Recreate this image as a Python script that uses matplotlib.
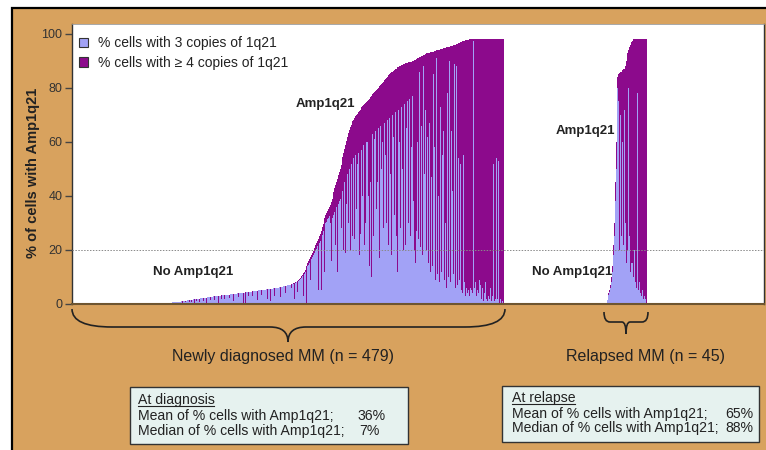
import numpy as np
import matplotlib.pyplot as plt
from matplotlib.patches import Rectangle, PathPatch, Patch
from matplotlib.path import Path
from matplotlib.lines import Line2D

plt.rcParams['font.family'] = ['Liberation Sans', 'DejaVu Sans']

# Newly diagnosed MM (n = 479), patients sorted by total % of cells with Amp1q21.
# The first 106 patients show no gain at all.
nd_n_zero = 106

# total % of cells with Amp1q21 (3 copies + >=4 copies), patients 107..479
nd_total = [
    0.4, 0.4, 0.5, 0.5, 0.5, 0.6, 0.6, 0.6, 0.7, 0.7, 0.8, 0.8, 0.8, 0.9, 0.9, 1.0, 1.0, 1.1, 1.1, 1.2, 1.2, 1.3, 1.3, 1.4, 1.5,
    1.5, 1.6, 1.6, 1.7, 1.7, 1.8, 1.8, 1.9, 1.9, 2.0, 2.0, 2.1, 2.1, 2.2, 2.2, 2.3, 2.3, 2.4, 2.4, 2.5, 2.5, 2.6, 2.6, 2.7, 2.7,
    2.8, 2.8, 2.9, 2.9, 3.0, 3.0, 3.0, 3.1,
    3.1, 3.2, 3.2, 3.3, 3.3, 3.3, 3.4, 3.4, 3.4, 3.5, 3.5, 3.6, 3.6, 3.6, 3.7, 3.7, 3.8, 3.8, 3.8, 3.9, 3.9, 4.0, 4.0, 4.0,
    4.1, 4.1, 4.2, 4.2,
    4.3, 4.3, 4.4, 4.4, 4.5, 4.5, 4.6, 4.6, 4.7, 4.7, 4.8, 4.8, 4.9, 4.9, 5.0, 5.0, 5.0, 5.1, 5.1, 5.2, 5.2, 5.3, 5.3, 5.4,
    5.4, 5.5, 5.5, 5.6,
    5.6, 5.7, 5.7, 5.8, 5.8, 5.9, 5.9, 6.0, 6.0, 6.1, 6.2, 6.2, 6.3, 6.4, 6.5, 6.5, 6.6, 6.7, 6.8, 6.9, 7.0, 7.1,
    7.2, 7.3, 7.5, 7.6, 7.8, 8.0, 8.2, 8.4, 8.7, 9.0, 9.3,
    9.7, 10.2, 10.8, 11.4, 12.0, 12.7, 13.4, 14.2, 15.0, 15.8, 16.6,
    17.4, 18.2, 19.0, 19.8, 20.6, 21.3, 22.0, 22.7, 23.4, 24.2, 25.0,
    26.0, 27.2, 28.5, 29.8, 31.0, 32.0, 33.0, 33.8, 34.6, 35.3, 36.0,
    36.8, 37.8, 39.0, 40.2, 41.5, 42.8, 44.0, 45.2, 46.4, 47.6, 48.8,
    50.0, 51.5, 53.0, 54.5, 56.0, 57.5, 59.0, 60.5, 62.0, 63.3, 64.5,
    65.4, 66.2, 67.0, 67.7, 68.3, 68.9, 69.5, 70.0, 70.5, 71.0, 71.5,
    72.0, 72.4, 72.8, 73.2, 73.6, 74.0, 74.4, 74.8, 75.2, 75.6, 76.0,
    76.4, 76.8, 77.2, 77.6, 78.0, 78.4, 78.8, 79.2, 79.6, 80.0, 80.4,
    80.8, 81.2, 81.6, 82.0, 82.4, 82.8, 83.2, 83.6, 84.0, 84.4, 84.8,
    85.2, 85.5, 85.8, 86.1, 86.4, 86.7, 87.0, 87.2, 87.4, 87.6, 87.8,
    88.0, 88.2, 88.4, 88.6, 88.8, 89.0, 89.1, 89.2, 89.3, 89.4, 89.5,
    89.6, 89.7, 89.8, 89.9, 90.0, 90.2, 90.4, 90.6, 90.8, 91.0, 91.2,
    91.4, 91.6, 91.8, 92.0, 92.2, 92.4, 92.6, 92.7, 92.8, 92.9, 93.0,
    93.1, 93.2, 93.3, 93.4, 93.5, 93.6, 93.7, 93.8, 93.9, 94.0, 94.1,
    94.2, 94.3, 94.4, 94.5, 94.6, 94.7, 94.8, 94.9, 95.0, 95.1, 95.2,
    95.3, 95.4, 95.5, 95.6, 95.7, 95.8, 95.9, 96.0, 96.2, 96.4, 96.6,
    96.8, 97.0, 97.1, 97.2, 97.3, 97.4, 97.5, 97.6, 97.7, 97.8, 97.9,
    98.0, 98.0, 98.0, 98.0, 98.0, 98.0, 98.0, 98.0, 98.0, 98.0, 98.0,
    98.0, 98.0, 98.0, 98.0, 98.0, 98.0, 98.0, 98.0, 98.0, 98.0, 98.0, 98.0, 98.0, 98.0,
    98.0, 98.0, 98.0, 98.0, 98.0, 98.0, 98.0, 98.0, 98.0, 98.0, 98.0, 98.0, 98.0, 98.0,
]

# % of cells with 3 copies of 1q21, same patients
nd_three = [
    0.4, 0.4, 0.5, 0.5, 0.5, 0.6, 0.6, 0.6, 0.7, 0.7, 0.8, 0.8, 0.8, 0.9, 0.9, 1.0, 0.5, 1.1, 1.1, 0.6, 1.2, 1.3, 1.3, 1.4, 0.8,
    1.5, 0.6, 1.6, 1.7, 0.5, 1.8, 1.8, 1.0, 1.9, 2.0, 0.8, 2.1, 2.1, 2.2, 1.2, 2.3, 2.3, 2.4, 0.4, 2.5, 2.5, 2.6, 1.5, 2.7, 2.7,
    2.8, 2.8, 1.4, 2.9, 3.0, 3.0, 0.2, 3.1,
    3.1, 2.0, 3.2, 3.3, 3.3, 1.8, 3.4, 3.4, 3.4, 3.5, 2.2, 3.6, 3.6, 3.6, 3.7, 1.0, 3.8, 3.8, 3.8, 3.9, 2.5, 4.0, 4.0, 4.0,
    4.1, 4.1, 0.3, 4.2,
    0.5, 4.3, 4.4, 2.8, 4.5, 4.5, 4.6, 4.6, 3.0, 4.7, 4.8, 4.8, 4.9, 1.5, 5.0, 5.0, 5.0, 5.1, 3.2, 5.2, 5.2, 5.3, 5.3, 5.4,
    2.0, 5.5, 0.8, 5.6,
    1.0, 5.7, 5.7, 5.8, 3.0, 5.9, 5.9, 6.0, 6.0, 6.1, 6.2, 2.5, 6.3, 6.4, 6.5, 6.5, 4.0, 6.7, 6.8, 6.9, 7.0, 7.1,
    7.0, 6.0, 7.3, 7.4, 2.0, 7.8, 8.0, 8.0, 4.5, 8.6, 8.9,
    9.2, 9.6, 10.2, 3.0, 11.0, 11.8, 12.5, 0.5, 14.0, 14.5, 15.0,
    9.0, 16.5, 17.5, 18.0, 19.0, 8.0, 20.0, 20.5, 21.5, 5.0, 22.5,
    23.5, 5.0, 25.5, 27.0, 28.0, 12.0, 30.0, 30.5, 31.5, 32.0, 32.5,
    30.0, 16.0, 32.0, 16.0, 33.0, 34.0, 22.0, 36.0, 12.0, 37.0, 38.0,
    39.0, 28.0, 36.0, 42.0, 20.0, 45.0, 19.0, 37.0, 48.0, 30.0, 50.0,
    20.0, 52.0, 44.0, 25.0, 54.0, 24.0, 55.0, 35.0, 52.0, 56.0, 18.0,
    26.0, 58.0, 57.0, 40.0, 59.0, 22.0, 30.0, 60.0, 60.0, 40.0, 14.0,
    62.0, 45.0, 10.0, 63.0, 25.0, 61.0, 64.0, 35.0, 45.0, 65.0, 20.0,
    17.0, 66.0, 50.0, 60.0, 28.0, 67.0, 55.0, 30.0, 68.0, 41.0, 22.0,
    69.0, 48.0, 18.0, 70.0, 62.0, 33.0, 71.0, 25.0, 62.0, 12.0, 72.0,
    60.0, 28.0, 73.0, 50.0, 20.0, 74.0, 22.0, 65.0, 19.0, 75.0, 30.0,
    76.0, 25.0, 58.0, 77.0, 38.0, 20.0, 15.0, 79.0, 27.0, 60.0, 24.0,
    86.0, 21.0, 66.0, 18.0, 88.0, 48.0, 16.0, 72.0, 20.0, 62.0, 15.0,
    67.0, 12.0, 47.0, 14.0, 85.0, 10.0, 58.0, 9.0, 91.0, 11.0, 40.0,
    8.0, 73.0, 12.0, 55.0, 7.0, 64.0, 9.0, 30.0, 6.0, 78.0, 10.0,
    90.0, 8.0, 64.0, 5.0, 42.0, 11.0, 89.0, 6.0, 88.0, 7.0, 54.0,
    9.0, 52.0, 5.0, 34.0, 4.0, 55.0, 8.0, 3.0, 6.0, 4.0, 5.0,
    3.0, 6.0, 2.0, 5.0, 4.0, 97.5, 6.0, 8.0, 3.0, 5.0, 4.0,
    9.0, 3.0, 7.0, 2.0, 6.0, 1.0, 4.0, 8.0, 2.0, 1.0, 3.0, 1.0, 2.0, 6.0,
    1.0, 3.0, 52.0, 1.0, 2.0, 54.0, 2.0, 1.0, 53.0, 0.0, 2.0, 0.0, 1.0, 0.0,
]

# Relapsed MM (n = 45)
rel_total = [1.5, 3, 4, 5, 7, 10, 14, 22, 30, 45, 60, 72, 84, 85, 85.5,
             86, 86, 86.5, 87, 87, 88, 90, 92, 93, 94, 95, 96, 97, 97.5,
             98, 98, 98, 98, 98, 98, 98, 98, 98, 98, 98, 98, 98, 98, 98, 98]
rel_three = [1.5, 2.5, 3.5, 4.5, 6, 8, 12, 18, 25, 38, 50, 65, 80, 75, 20,
             70, 25, 60, 22, 72, 30, 15, 80, 20, 80, 25, 12, 15, 15, 10,
             20, 8, 12, 6, 78, 5, 8, 4, 3, 5, 2, 3, 1, 2, 0]

yticks = [0, 20, 40, 60, 80, 100]
threshold = 20

LAV = '#a2a2f6'
PUR = '#8c0a8c'
TAN = '#d8a25e'
BOXC = '#e6f2ef'
INK = '#222222'

nd_tot = np.r_[np.zeros(nd_n_zero), nd_total]
nd_3 = np.r_[np.zeros(nd_n_zero), nd_three]
nd_4 = nd_tot - nd_3
rel_3 = np.array(rel_three, float)
rel_4 = np.array(rel_total, float) - rel_3

nd_x = np.arange(len(nd_tot))
rel_x = 593 + np.arange(len(rel_total))

fig = plt.figure(figsize=(7.66, 4.5), dpi=100)

# background panel in pixel coordinates
bg = fig.add_axes([0, 0, 1, 1], zorder=0)
bg.set_xlim(0, 766)
bg.set_ylim(450, 0)
bg.axis('off')
bg.add_patch(Rectangle((12, 8), 760, 450, facecolor=TAN, edgecolor='black', lw=1.6))

ax = fig.add_axes([72 / 766, 1 - 304 / 450, (764 - 72) / 766, 280 / 450], zorder=1)
ax.set_facecolor('white')
ax.bar(nd_x, nd_3, width=1.0, color=LAV, lw=0)
ax.bar(nd_x, nd_4, width=1.0, bottom=nd_3, color=PUR, lw=0)
ax.bar(rel_x, rel_3, width=1.0, color=LAV, lw=0)
ax.bar(rel_x, rel_4, width=1.0, bottom=rel_3, color=PUR, lw=0)
ax.axhline(threshold, color='#8a8a8a', lw=0.7, ls=(0, (1.5, 1.5)), zorder=3)

ax.set_xlim(-0.5, 767)
ax.set_ylim(0, 103.7)
ax.set_xticks([])
ax.set_yticks(yticks)
ax.tick_params(axis='y', direction='out', length=5, width=1, color='#444',
               labelsize=9, labelcolor='#333', pad=2)
for side in ['left', 'right']:
    ax.spines[side].set_color('#333')
    ax.spines[side].set_linewidth(1)
ax.spines['top'].set_color('#999')
ax.spines['top'].set_linewidth(0.6)
ax.spines['bottom'].set_color('#6e5530')
ax.spines['bottom'].set_linewidth(1.5)
ax.set_ylabel('% of cells with Amp1q21', fontsize=10.5, fontweight='bold', color=INK)
ax.yaxis.set_label_coords(-0.046, 0.468)

handles = [Patch(facecolor=LAV, edgecolor='#333', lw=0.8, label='% cells with 3 copies of 1q21'),
           Patch(facecolor=PUR, edgecolor='#333', lw=0.8, label='% cells with \u2265 4 copies of 1q21')]
leg = ax.legend(handles=handles, loc='upper left', frameon=False, fontsize=10,
                handlelength=0.65, handleheight=0.65, handletextpad=0.75,
                labelspacing=0.42, borderaxespad=0, borderpad=0,
                bbox_to_anchor=(0.010, 0.957))
for t in leg.get_texts():
    t.set_color(INK)

ax.text(281, 74, 'Amp1q21', fontsize=9.5, fontweight='bold', ha='center', va='center', color=INK)
ax.text(134, 12, 'No Amp1q21', fontsize=9.5, fontweight='bold', ha='center', va='center', color=INK)
ax.text(569, 64, 'Amp1q21', fontsize=9.5, fontweight='bold', ha='center', va='center', color=INK)
ax.text(554, 12, 'No Amp1q21', fontsize=9.5, fontweight='bold', ha='center', va='center', color=INK)


def brace(x0, x1, xc, ytop, ymid, ytip, r_end, r_mid):
    verts = [(x0, ytop), (x0, ymid), (x0 + r_end, ymid),
             (xc - r_mid, ymid), (xc, ymid), (xc, ytip),
             (xc, ymid), (xc + r_mid, ymid),
             (x1 - r_end, ymid), (x1, ymid), (x1, ytop)]
    codes = [Path.MOVETO, Path.CURVE3, Path.CURVE3,
             Path.LINETO, Path.CURVE3, Path.CURVE3,
             Path.CURVE3, Path.CURVE3,
             Path.LINETO, Path.CURVE3, Path.CURVE3]
    bg.add_patch(PathPatch(Path(verts, codes), facecolor='none', edgecolor=INK, lw=1.2))


brace(72, 505, 288, 309, 327, 342, 40, 18)
brace(604, 648, 626, 312, 322, 334, 6, 4)

bg.text(283, 357, 'Newly diagnosed MM (n = 479)', fontsize=11.5, ha='center', va='center', color=INK)
bg.text(646, 357, 'Relapsed MM (n = 45)', fontsize=11.5, ha='center', va='center', color=INK)

# summary boxes
bg.add_patch(Rectangle((130, 387), 278, 57, facecolor=BOXC, edgecolor='#333', lw=1))
bg.add_patch(Rectangle((502, 386), 257, 56, facecolor=BOXC, edgecolor='#333', lw=1))

fs = 10.1
bg.text(138, 400, 'At diagnosis', fontsize=fs, va='center', color=INK)
bg.add_line(Line2D([138, 214], [406, 406], color=INK, lw=0.8))
bg.text(138, 416, 'Mean of % cells with Amp1q21;', fontsize=fs, va='center', color=INK)
bg.text(357, 416, '36%', fontsize=fs, va='center', color=INK)
bg.text(138, 431, 'Median of % cells with Amp1q21;', fontsize=fs, va='center', color=INK)
bg.text(359, 431, '7%', fontsize=fs, va='center', color=INK)

bg.text(512, 398, 'At relapse', fontsize=fs, va='center', color=INK)
bg.add_line(Line2D([512, 575], [404, 404], color=INK, lw=0.8))
bg.text(512, 414, 'Mean of % cells with Amp1q21;', fontsize=fs, va='center', color=INK)
bg.text(753, 414, '65%', fontsize=fs, va='center', ha='right', color=INK)
bg.text(512, 428, 'Median of % cells with Amp1q21;', fontsize=fs, va='center', color=INK)
bg.text(753, 428, '88%', fontsize=fs, va='center', ha='right', color=INK)

fig.savefig('out.png', dpi=100)
